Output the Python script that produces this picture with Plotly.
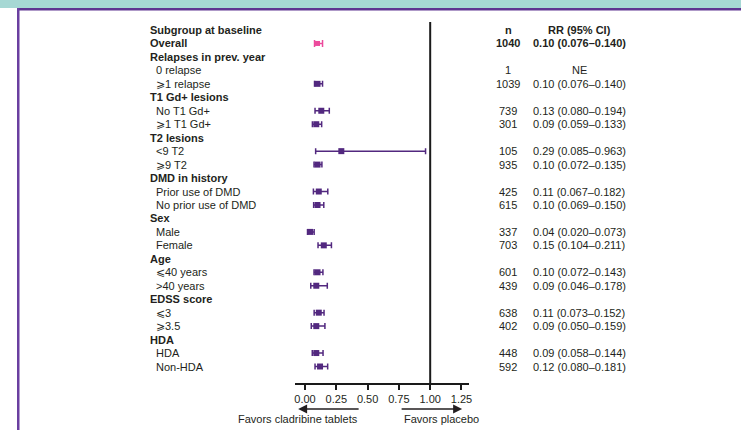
import plotly.graph_objects as go
import math

NAN = float("nan")

labels = ["Subgroup at baseline", "Overall", "Relapses in prev. year", "0 relapse", "⩾1 relapse",
          "T1 Gd+ lesions", "No T1 Gd+", "⩾1 T1 Gd+", "T2 lesions", "<9 T2", "⩾9 T2",
          "DMD in history", "Prior use of DMD", "No prior use of DMD", "Sex", "Male", "Female",
          "Age", "⩽40 years", ">40 years", "EDSS score", "⩽3", "⩾3.5", "HDA", "HDA", "Non-HDA"]
is_header = [1, 1, 1, 0, 0, 1, 0, 0, 1, 0, 0, 1, 0, 0, 1, 0, 0, 1, 0, 0, 1, 0, 0, 1, 0, 0]
n_text = ["n", "1040", "", "1", "1039", "", "739", "301", "", "105", "935", "", "425", "615",
          "", "337", "703", "", "601", "439", "", "638", "402", "", "448", "592"]
rr_text = ["RR (95% CI)", "0.10 (0.076–0.140)", "", "NE", "0.10 (0.076–0.140)", "",
           "0.13 (0.080–0.194)", "0.09 (0.059–0.133)", "", "0.29 (0.085–0.963)",
           "0.10 (0.072–0.135)", "", "0.11 (0.067–0.182)", "0.10 (0.069–0.150)", "",
           "0.04 (0.020–0.073)", "0.15 (0.104–0.211)", "", "0.10 (0.072–0.143)",
           "0.09 (0.046–0.178)", "", "0.11 (0.073–0.152)", "0.09 (0.050–0.159)", "",
           "0.09 (0.058–0.144)", "0.12 (0.080–0.181)"]
est = [NAN, 0.10, NAN, NAN, 0.10, NAN, 0.13, 0.09, NAN, 0.29, 0.10, NAN, 0.11, 0.10, NAN,
       0.04, 0.15, NAN, 0.10, 0.09, NAN, 0.11, 0.09, NAN, 0.09, 0.12]
lo = [NAN, 0.076, NAN, NAN, 0.076, NAN, 0.080, 0.059, NAN, 0.085, 0.072, NAN, 0.067, 0.069, NAN,
      0.020, 0.104, NAN, 0.072, 0.046, NAN, 0.073, 0.050, NAN, 0.058, 0.080]
hi = [NAN, 0.140, NAN, NAN, 0.140, NAN, 0.194, 0.133, NAN, 0.963, 0.135, NAN, 0.182, 0.150, NAN,
      0.073, 0.211, NAN, 0.143, 0.178, NAN, 0.152, 0.159, NAN, 0.144, 0.181]
x_ticks = [0, 0.25, 0.5, 0.75, 1.0, 1.25]
x_tick_text = ["0.00", "0.25", "0.50", "0.75", "1.00", "1.25"]

W, H = 741, 430
PURPLE = "#52287f"
PINK = "#ec4a9c"
TXT = "#231f20"
FONT = "Liberation Sans, Arial, sans-serif"
FS = 11

def px(x):
    return x / W

def py(y):
    return 1 - y / H

fig = go.Figure()

rows = list(range(len(labels)))
sub_rows = [r for r in rows if r != 1 and not math.isnan(est[r])]

fig.add_trace(go.Scatter(
    x=[est[r] for r in sub_rows], y=sub_rows, mode="markers",
    marker=dict(symbol="square", size=6, color=PURPLE),
    error_x=dict(type="data", symmetric=False,
                 array=[hi[r] - est[r] for r in sub_rows],
                 arrayminus=[est[r] - lo[r] for r in sub_rows],
                 color=PURPLE, thickness=1.5, width=3),
    showlegend=False, hoverinfo="skip"))

fig.add_trace(go.Scatter(
    x=[est[1]], y=[1], mode="markers",
    marker=dict(symbol="square", size=5, color=PINK),
    error_x=dict(type="data", symmetric=False, array=[hi[1] - est[1]],
                 arrayminus=[est[1] - lo[1]], color=PINK, thickness=1.5, width=3.5),
    showlegend=False, hoverinfo="skip"))

ann = []
for r in rows:
    bold = is_header[r] == 1
    lab = f"<b>{labels[r]}</b>" if bold else labels[r]
    ann.append(dict(x=px(148 if bold else 154), xref="paper", y=r, yref="y", text=lab,
                    showarrow=False, xanchor="left", yanchor="middle",
                    font=dict(size=FS, color=TXT, family=FONT)))
    bold_num = r in (0, 1)
    if n_text[r]:
        t = f"<b>{n_text[r]}</b>" if bold_num else n_text[r]
        ann.append(dict(x=px(508), xref="paper", y=r, yref="y", text=t, showarrow=False,
                        xanchor="center", yanchor="middle",
                        font=dict(size=FS, color=TXT, family=FONT)))
    if rr_text[r]:
        t = f"<b>{rr_text[r]}</b>" if bold_num else rr_text[r]
        ann.append(dict(x=px(579), xref="paper", y=r, yref="y", text=t, showarrow=False,
                        xanchor="center", yanchor="middle",
                        font=dict(size=FS, color=TXT, family=FONT)))

# direction arrows
ann.append(dict(x=-0.055, xref="x", y=py(409), yref="paper", ax=62, ay=0, axref="pixel",
                ayref="pixel", text="", showarrow=True, arrowhead=2, arrowsize=1.2,
                arrowwidth=1.5, arrowcolor=TXT))
ann.append(dict(x=1.255, xref="x", y=py(409), yref="paper", ax=-62, ay=0, axref="pixel",
                ayref="pixel", text="", showarrow=True, arrowhead=2, arrowsize=1.2,
                arrowwidth=1.5, arrowcolor=TXT))
ann.append(dict(x=px(360), xref="paper", y=py(419), yref="paper",
                text="Favors cladribine tablets", showarrow=False, xanchor="right",
                yanchor="middle", font=dict(size=11, color=TXT, family=FONT)))
ann.append(dict(x=px(402), xref="paper", y=py(419), yref="paper",
                text="Favors placebo", showarrow=False, xanchor="left",
                yanchor="middle", font=dict(size=11, color=TXT, family=FONT)))

shapes = [
    dict(type="rect", xref="paper", yref="paper", x0=0, x1=1, y0=py(8), y1=1,
         fillcolor="#a6d8d4", line=dict(width=0), layer="below"),
    dict(type="rect", xref="paper", yref="paper", x0=px(17), x1=1, y0=py(10.5), y1=py(8),
         fillcolor="#5e3491", line=dict(width=0), layer="above"),
    dict(type="rect", xref="paper", yref="paper", x0=px(17), x1=px(19.5), y0=0, y1=py(8),
         fillcolor="#6a3fa0", line=dict(width=0), layer="above"),
    dict(type="line", xref="x", yref="y domain", x0=1, x1=1, y0=0, y1=1,
         line=dict(color="#1a1a1a", width=2)),
]

y_top_px, y_bot_px = 22, 383
row0_px, step = 30.0, 13.46
r_bot = (y_bot_px - row0_px) / step
r_top = (y_top_px - row0_px) / step

fig.update_layout(
    width=W, height=H, margin=dict(l=0, r=0, t=0, b=0, autoexpand=False),
    paper_bgcolor="white", plot_bgcolor="white",
    annotations=ann, shapes=shapes,
    xaxis=dict(domain=[px(295), px(469)], range=[-0.08, 1.31], tickvals=x_ticks,
               ticktext=x_tick_text, showgrid=False, zeroline=False, showline=True,
               linecolor="#1a1a1a", linewidth=2, ticks="outside", ticklen=5, tickwidth=2,
               tickcolor="#1a1a1a", tickfont=dict(size=11, color=TXT, family=FONT),
               fixedrange=True, automargin=False),
    yaxis=dict(domain=[py(y_bot_px), py(y_top_px)], range=[r_bot, r_top], visible=False,
               showgrid=False, zeroline=False, fixedrange=True, automargin=False),
    showlegend=False,
)

fig.write_html("out.html", config={"displayModeBar": False},
               post_script="document.body.style.margin='0';document.body.style.padding='0';")
